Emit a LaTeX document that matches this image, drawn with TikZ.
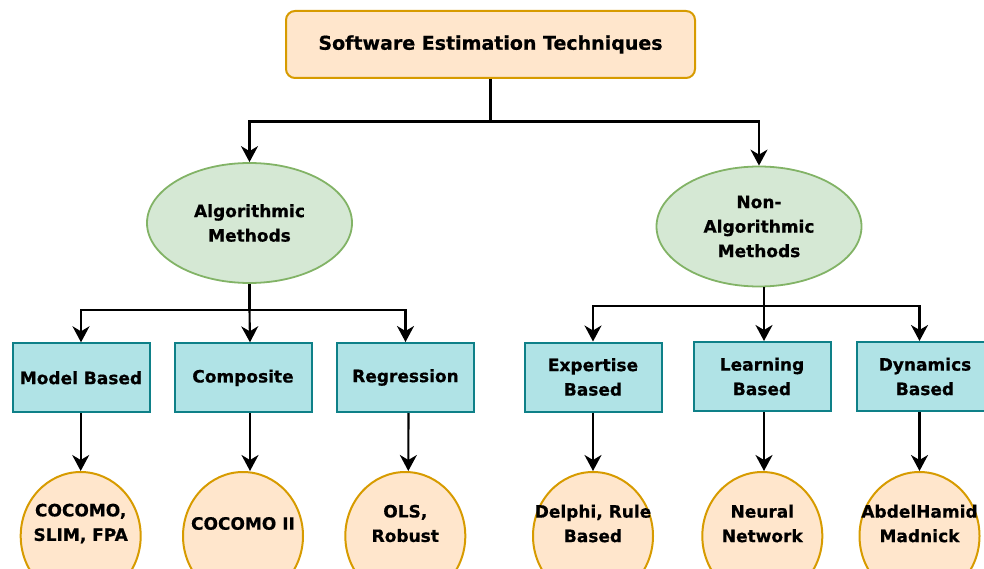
\documentclass[tikz,border=0pt]{standalone}
\usepackage{fontspec}
\setmainfont[BoldFeatures={FakeBold=0.6}]{DejaVu Sans}
\usetikzlibrary{arrows.meta,shapes.geometric,calc}

\definecolor{peachfill}{HTML}{FFE6CC}
\definecolor{peachline}{HTML}{D79B00}
\definecolor{greenfill}{HTML}{D5E8D4}
\definecolor{greenline}{HTML}{82B366}
\definecolor{tealfill}{HTML}{B0E3E6}
\definecolor{tealline}{HTML}{0E8088}
\definecolor{wirecol}{HTML}{000000}

\tikzset{
  lbl/.style={font=\fontsize{17}{24.5}\selectfont\bfseries, align=center, text=black},
  titlebox/.style={rectangle, draw=peachline, fill=peachfill, line width=2pt,
    rounded corners=9pt, minimum width=409pt, minimum height=67pt, inner sep=0pt,
    font=\fontsize{19}{22}\selectfont\bfseries},
  method/.style={ellipse, draw=greenline, fill=greenfill, line width=1.8pt,
    minimum width=205pt, minimum height=120pt, inner sep=0pt, lbl},
  category/.style={rectangle, draw=tealline, fill=tealfill, line width=2pt,
    minimum width=137pt, minimum height=69pt, inner sep=0pt, lbl},
  example/.style={ellipse, draw=peachline, fill=peachfill, line width=2pt,
    minimum width=120pt, minimum height=128pt, inner sep=0pt},
  wire/.style={draw=wirecol, line width=2.1pt},
  arr/.style={wire, -{Stealth[length=16pt,width=17pt,inset=5pt]}},
}

\begin{document}
\begin{tikzpicture}[x=1pt, y=-1pt]
  \useasboundingbox (0,0) rectangle (984,569);
  \clip (0,0) rectangle (984,569);

  % root
  \node[titlebox] (root) at (490.5,44.5) {Software Estimation Techniques};

  % two families of methods
  \node[method] (alg) at (249.5,223) {Algorithmic\\Methods};
  \node[method] (nonalg) at (759,226.5) {Non-\\Algorithmic\\Methods};

  % categories
  \node[category] (model)  at (81,377.8)  {Model Based};
  \node[category] (comp)   at (243,377.8) {Composite};
  \node[category] (regr)   at (405.5,377.5) {Regression};
  \node[category] (expert) at (593,377)   {Expertise\\Based};
  \node[category] (learn)  at (762,376.5) {Learning\\Based};
  \node[category] (dyn)    at (925,376.5) {Dynamics\\Based};

  % example techniques
  \node[example] (ex1) at (80.7,536) {};
  \node[example] (ex2) at (243,536)  {};
  \node[example] (ex3) at (405.3,536) {};
  \node[example] (ex4) at (593,536)  {};
  \node[example] (ex5) at (762.3,536) {};
  \node[example] (ex6) at (919.5,536) {};
  \node[lbl] (ex1t) at ($(ex1.center)+(0,-12.5)$) {COCOMO,\\SLIM, FPA};
  \node[lbl] (ex2t) at ($(ex2.center)+(0,-12.5)$) {COCOMO II};
  \node[lbl] (ex3t) at ($(ex3.center)+(0,-12.5)$) {OLS,\\Robust};
  \node[lbl] (ex4t) at ($(ex4.center)+(0,-12.5)$) {Delphi, Rule\\Based};
  \node[lbl] (ex5t) at ($(ex5.center)+(0,-12.5)$) {Neural\\Network};
  \node[lbl] (ex6t) at ($(ex6.center)+(0,-12.5)$) {AbdelHamid\\Madnick};

  % bus lines
  \coordinate (topbar) at (0,121.5);
  \coordinate (lbar) at (0,310);
  \coordinate (rbar) at (0,306);
  \coordinate (rstem) at ($(nonalg.south)+(5,0)$);

  % root to families
  \draw[arr] (root.south) -- (root.south |- topbar) -| (alg.north);
  \draw[arr] (root.south |- topbar) -| (nonalg.north);

  % algorithmic branch
  \draw[arr] (alg.south) -- (alg.south |- lbar) -| (model.north);
  \draw[arr] (alg.south |- lbar) -- ($(comp.north)+(7,0)$);
  \draw[arr] (alg.south |- lbar) -| (regr.north);

  % non-algorithmic branch
  \draw[arr] (rstem) -- (rstem |- rbar) -| (expert.north);
  \draw[arr] (rstem |- rbar) -- (rstem |- learn.north);
  \draw[arr] (rstem |- rbar) -| (dyn.north -| ex6.north);

  % categories to examples
  \draw[arr] (model.south -| ex1.north) -- (ex1.north);
  \draw[arr] ($(comp.south)+(7,0)$) -- ($(ex2.north)+(7,0)$);
  \draw[arr] ($(regr.south)+(3,0)$) -- ($(ex3.north)+(3,0)$);
  \draw[arr] (expert.south) -- (ex4.north);
  \draw[arr] ($(learn.south -| ex5.north)+(1.7,0)$) -- ($(ex5.north)+(1.7,0)$);
  \draw[arr] (dyn.south -| ex6.north) -- (ex6.north);
\end{tikzpicture}
\end{document}
